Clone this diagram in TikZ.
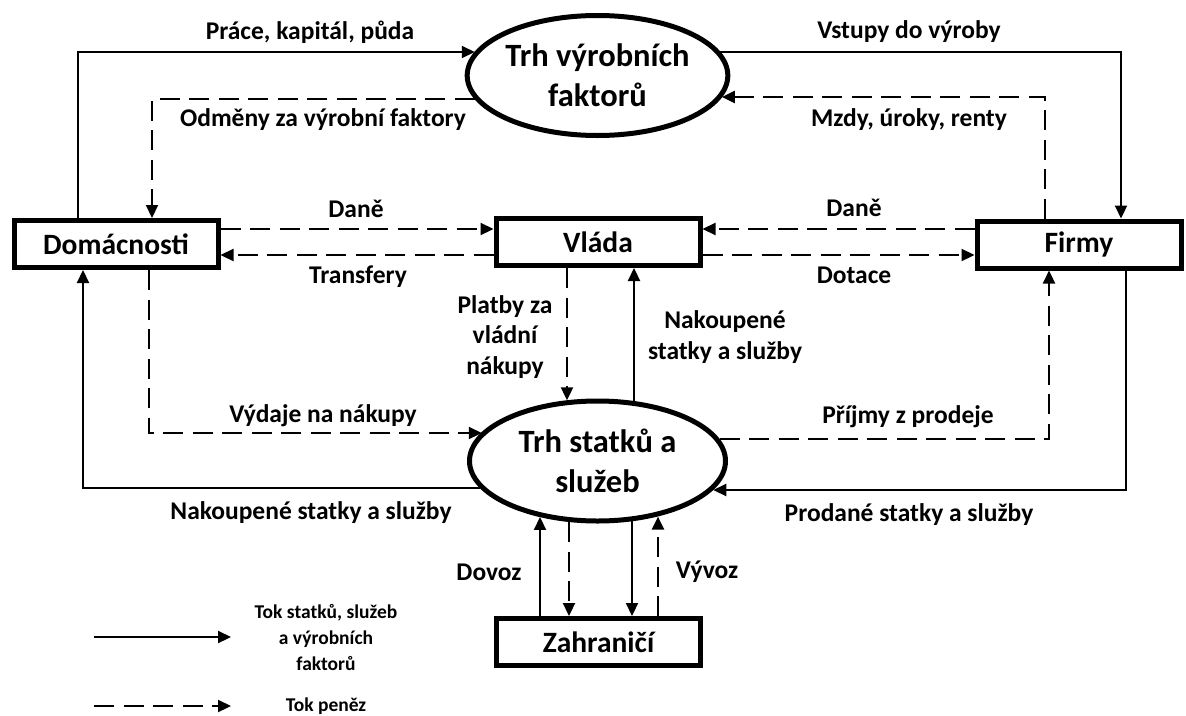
\documentclass[tikz,border=0pt]{standalone}
\usepackage{fontspec}
\setmainfont{Carlito}
\usetikzlibrary{arrows.meta, positioning, shapes.geometric}

\tikzset{
  sector/.style={draw, line width=5pt, minimum width=204pt, minimum height=47pt, inner sep=0pt, font=\fontsize{29.5}{36}\selectfont\bfseries},
  market/.style={ellipse, draw, line width=5pt, minimum width=256pt, minimum height=120pt, inner sep=0pt, align=center, font=\fontsize{32.5}{40}\selectfont\bfseries},
  flow/.style={line width=2.2pt, -{Triangle[length=13pt,width=12pt]}},
  money/.style={flow, dash pattern=on 20pt off 9.5pt},
  lbl/.style={inner sep=0pt, align=center, font=\fontsize{25.5}{30.5}\selectfont\bfseries},
  legend/.style={inner sep=0pt, align=center, font=\fontsize{19.5}{26}\selectfont\bfseries}
}

\begin{document}
\begin{tikzpicture}[x=1pt, y=-1pt]
\useasboundingbox (0,0) rectangle (1186,715);

% sektory
\node[sector] (dom) at (116,244) {Domácnosti};
\node[sector] (vl) at (598,242) {Vláda};
\node[sector] (fi) at (1079,244.5) {Firmy};
\node[sector] (za) at (598.5,642) {Zahraničí};

% trhy
\node[market] (tvf) at (597.5,75.5) {Trh výrobních\\faktorů};
\node[market] (tss) at (597.5,461) {Trh statků a\\služeb};

% trh vyrobnich faktoru
\coordinate (pr) at (78,52);
\draw[flow] (pr |- dom.north) -- (pr) -- (pr -| tvf.169);
\node[lbl] (l-pr) at (310,32) {Práce, kapitál, půda};
\coordinate (odm) at (152,99);
\draw[money] (odm -| tvf.191) -- (odm) -- (odm |- dom.north);
\node[lbl] (l-odm) at (323,120) {Odměny za výrobní faktory};
\coordinate (vst) at (1121,52);
\draw[flow] (vst -| tvf.11) -- (vst) -- (vst |- fi.north);
\node[lbl] (l-vst) at (909,32) {Vstupy do výroby};
\coordinate (mzd) at (1045,97);
\draw[money] (mzd |- fi.north) -- (mzd) -- (mzd -| tvf.350);
\node[lbl] (l-mzd) at (909,120) {Mzdy, úroky, renty};

% vlada
\coordinate (dan) at (0,229);
\coordinate (tra) at (0,255);
\draw[money] (dan -| dom.east) -- (dan -| vl.west);
\node[lbl] (l-dan1) at (356,209) {Daně};
\draw[money] (tra -| vl.west) -- (tra -| dom.east);
\node[lbl] (l-tra) at (358,277) {Transfery};
\draw[money] (dan -| fi.west) -- (dan -| vl.east);
\node[lbl] (l-dan2) at (854,208) {Daně};
\draw[money] (tra -| vl.east) -- (tra -| fi.west);
\node[lbl] (l-dot) at (854,275) {Dotace};
\coordinate (pla) at (567,330);
\draw[money] (vl.south -| pla) -- (pla |- tss.117);
\node[lbl] (l-pla) at (505,337) {Platby za\\vládní\\nákupy};
\coordinate (nvl) at (634,330);
\draw[flow] (nvl |- tss.59) -- (vl.south -| nvl);
\node[lbl] (l-nvl) at (725,337) {Nakoupené\\statky a služby};

% trh statku a sluzeb
\coordinate (vyd) at (149,433);
\draw[money] (vyd |- dom.south) -- (vyd) -- (vyd -| tss.166);
\node[lbl] (l-vyd) at (323,416) {Výdaje na nákupy};
\coordinate (nak) at (83,488);
\draw[flow] (nak -| tss.193) -- (nak) -- (nak |- dom.south);
\node[lbl] (l-nak) at (311,513) {Nakoupené statky a služby};
\coordinate (pri) at (1049,439);
\draw[money] (pri -| tss.10) -- (pri) -- (pri |- fi.south);
\node[lbl] (l-pri) at (908,417) {Příjmy z prodeje};
\coordinate (pro) at (1126,490);
\draw[flow] (pro |- fi.south) -- (pro) -- (pro -| tss.346);
\node[lbl] (l-pro) at (909,515) {Prodané statky a služby};

% zahranici
\coordinate (dov) at (540,570);
\coordinate (dop) at (569,570);
\coordinate (vyv) at (632,570);
\coordinate (vyp) at (658,570);
\draw[flow] (dov |- za.north) -- (dov |- tss.224);
\draw[money] (dop |- tss.245) -- (dop |- za.north);
\draw[flow] (vyv |- tss.300) -- (vyv |- za.north);
\draw[money] (vyp |- za.north) -- (vyp |- tss.317);
\node[lbl] (l-dov) at (489,572) {Dovoz};
\node[lbl] (l-vyv) at (707,572) {Vývoz};

% legenda
\coordinate (lg1) at (94,637);
\coordinate (lg1e) at (231,637);
\draw[flow] (lg1) -- (lg1e);
\node[legend] (t-lg1) at (326,637) {Tok statků, služeb\\a výrobních\\faktorů};
\coordinate (lg2) at (94,706);
\coordinate (lg2e) at (231,706);
\draw[money] (lg2) -- (lg2e);
\node[legend] (t-lg2) at (326,706) {Tok peněz};
\end{tikzpicture}
\end{document}
